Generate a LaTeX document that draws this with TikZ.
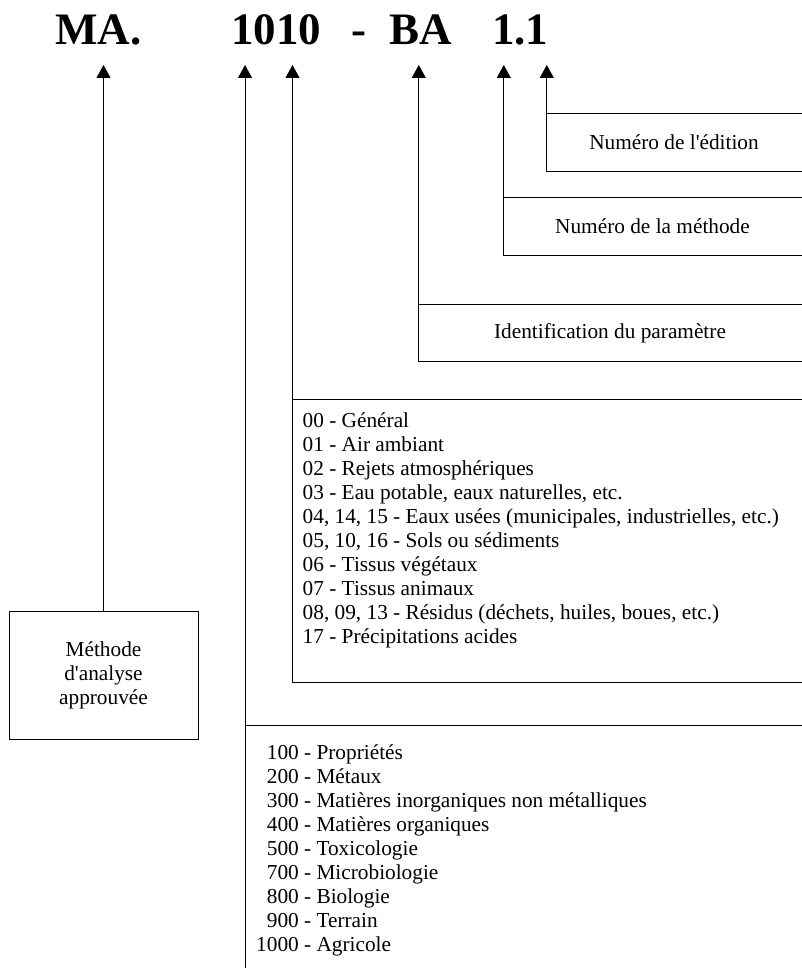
\documentclass[tikz,border=0pt]{standalone}
\usepackage{fontspec}
\setmainfont{Liberation Serif}
\usetikzlibrary{arrows.meta}
\begin{document}
\begin{tikzpicture}[x=1pt,y=-1pt,
  titletxt/.style={font=\fontsize{45}{50}\selectfont\bfseries, anchor=base west, inner sep=0pt},
  lbl/.style={font=\fontsize{21.3}{24.1}\selectfont, inner sep=0pt},
  conn/.style={line width=1pt, -{Triangle[width=14pt,length=13pt]}},
  frame/.style={line width=1pt},
  emptybox/.style={inner sep=0pt, anchor=north west}
]
\useasboundingbox[fill=white] (0,0) rectangle (801,968);

% title
\node[titletxt] (tMA) at (55,45) {MA.};
\node[titletxt] (t1010) at (231,45) {1010};
\node[titletxt] (tdash) at (351,45) {-};
\node[titletxt] (tBA) at (389,45) {BA};
\node[titletxt] (t11) at (492,45) {1.1};

% boxes
\node[lbl, draw, frame, minimum width=189pt, minimum height=128pt, align=center] (meth) at (103.5,675) {Méthode\\d\textquotesingle analyse\\approuvée};
\node[lbl, minimum width=254pt, minimum height=57pt] (ed) at (674,142.5) {Numéro de l\textquotesingle édition};
\node[lbl, minimum width=297pt, minimum height=57pt] (num) at (652.5,226.5) {Numéro de la méthode};
\node[lbl, minimum width=382pt, minimum height=56pt] (ident) at (610,333) {Identification du paramètre};
\node[emptybox, minimum width=520pt, minimum height=283pt] (catbox) at (292.5,399) {};
\node[lbl, anchor=base west] (catlist) at (302.5,427) {\begin{tabular}[t]{@{}l@{}}
00 - Général\\
01 - Air ambiant\\
02 - Rejets atmosphériques\\
03 - Eau potable, eaux naturelles, etc.\\
04, 14, 15 - Eaux usées (municipales, industrielles, etc.)\\
05, 10, 16 - Sols ou sédiments\\
06 - Tissus végétaux\\
07 - Tissus animaux\\
08, 09, 13 - Résidus (déchets, huiles, boues, etc.)\\
17 - Précipitations acides
\end{tabular}};
\node[emptybox, minimum width=570pt, minimum height=270pt] (grpbox) at (245,725) {};
\node[lbl, anchor=base west] (grplist) at (256,759) {\begin{tabular}[t]{@{}r@{\ -\ }l@{}}
100 & Propriétés\\
200 & Métaux\\
300 & Matières inorganiques non métalliques\\
400 & Matières organiques\\
500 & Toxicologie\\
700 & Microbiologie\\
800 & Biologie\\
900 & Terrain\\
1000 & Agricole
\end{tabular}};

\foreach \b in {ed,num,ident,catbox,grpbox}
  \draw[frame] ([xshift=40pt]\b.north east) -- (\b.north west) -- (\b.south west) -- ([xshift=40pt]\b.south east);

% connectors
\coordinate (tipline) at (0,65);
\coordinate (tipMA) at (meth.north |- tipline);
\coordinate (tipA) at (grpbox.north west |- tipline);
\coordinate (tipB) at (catbox.north west |- tipline);
\coordinate (tipC) at (ident.north west |- tipline);
\coordinate (tipD) at (num.north west |- tipline);
\coordinate (tipE) at (ed.north west |- tipline);
\draw[conn] (meth.north) -- (tipMA);
\draw[conn] (grpbox.north west) -- (tipA);
\draw[conn] (catbox.north west) -- (tipB);
\draw[conn] (ident.north west) -- (tipC);
\draw[conn] (num.north west) -- (tipD);
\draw[conn] (ed.north west) -- (tipE);
\end{tikzpicture}
\end{document}
